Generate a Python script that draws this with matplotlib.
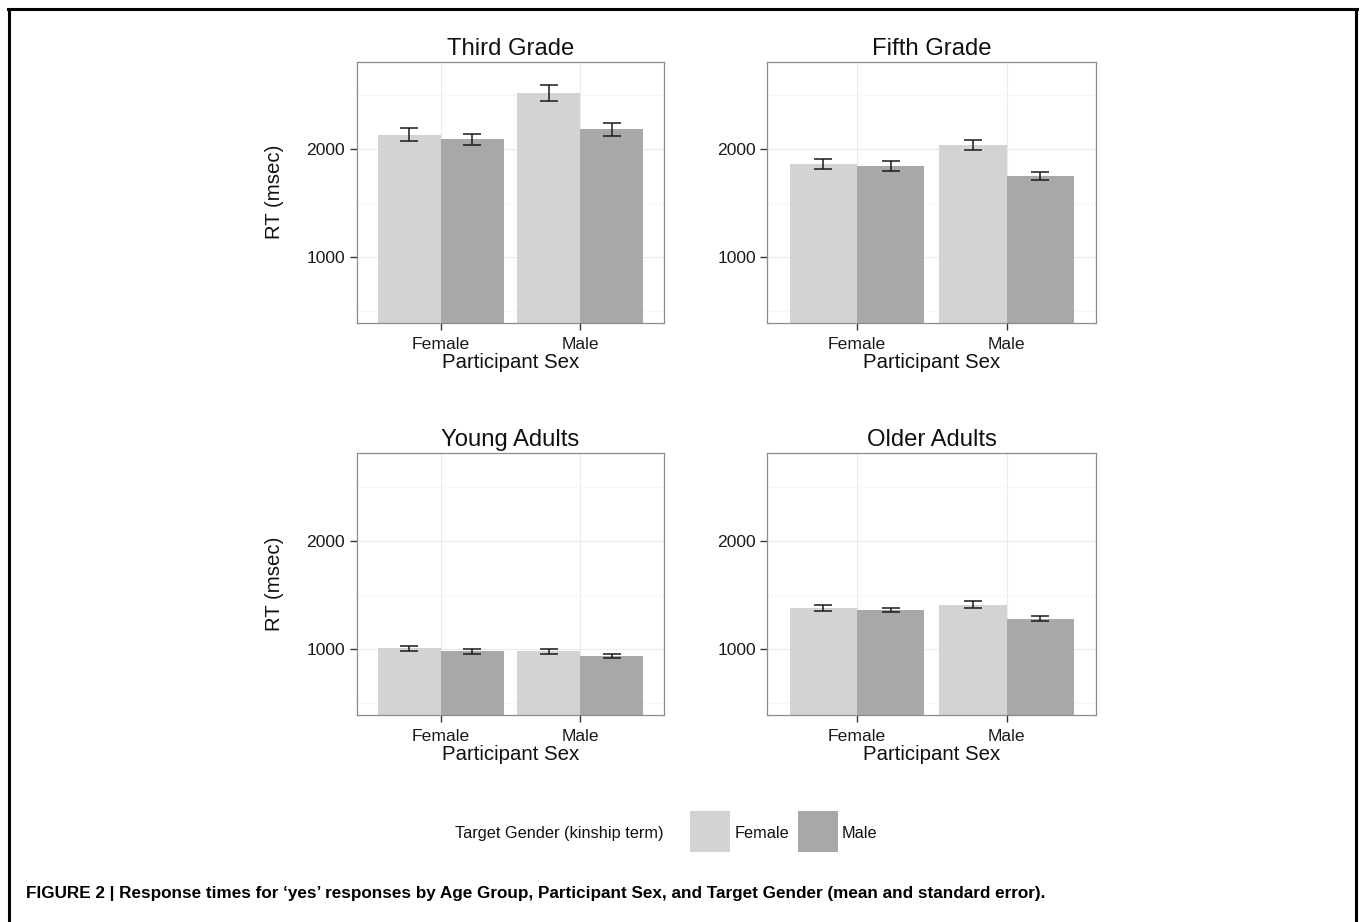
import matplotlib
matplotlib.use("Agg")
import matplotlib.pyplot as plt
from matplotlib.lines import Line2D
from matplotlib.patches import Rectangle
import numpy as np

plt.rcParams['font.family'] = ['Liberation Sans', 'DejaVu Sans']

# ---------------- data ----------------
groups = ["Third Grade", "Fifth Grade", "Young Adults", "Older Adults"]
participant_sex = ["Female", "Male"]
target_gender = ["Female", "Male"]

# mean RT per participant sex (Female, Male) for female-target and male-target
female_target_mean = {
    "Third Grade": [2133, 2519],
    "Fifth Grade": [1864, 2038],
    "Young Adults": [1007, 979],
    "Older Adults": [1376, 1410],
}
male_target_mean = {
    "Third Grade": [2089, 2183],
    "Fifth Grade": [1842, 1751],
    "Young Adults": [980, 938],
    "Older Adults": [1360, 1281],
}
female_target_se = {
    "Third Grade": [62, 77],
    "Fifth Grade": [46, 43],
    "Young Adults": [23, 21],
    "Older Adults": [28, 32],
}
male_target_se = {
    "Third Grade": [52, 60],
    "Fifth Grade": [45, 37],
    "Young Adults": [23, 18],
    "Older Adults": [21, 23],
}
fill_colors = ["#d3d3d3", "#a8a8a8"]

y_major = [1000, 2000]
y_minor = [500, 1500, 2500]

legend_title = "Target Gender (kinship term)"
caption = ("FIGURE 2 | Response times for \u2018yes\u2019 responses by Age Group, "
           "Participant Sex, and Target Gender (mean and standard error).")

# ---------------- figure ----------------
W, H = 1360, 922
fig = plt.figure(figsize=(W / 100, H / 100), dpi=100)

def rect(l, r, t, b):
    return [l / W, 1 - b / H, (r - l) / W, (b - t) / H]

positions = {
    "Third Grade": rect(356.7, 664.3, 61.7, 322.7),
    "Fifth Grade": rect(767.3, 1096.3, 61.7, 322.7),
    "Young Adults": rect(356.7, 664.3, 453.3, 715.0),
    "Older Adults": rect(767.3, 1096.3, 453.3, 715.0),
}
show_ylabel = {"Third Grade": True, "Fifth Grade": False,
               "Young Adults": True, "Older Adults": False}

x = np.arange(len(participant_sex))
bw = 0.45
for g in groups:
    ax = fig.add_axes(positions[g])
    means = [female_target_mean[g], male_target_mean[g]]
    ses = [female_target_se[g], male_target_se[g]]
    for k in range(2):
        xs = x + (k - 0.5) * bw
        ax.bar(xs, means[k], width=bw, color=fill_colors[k], zorder=2,
               linewidth=0)
        ax.errorbar(xs, means[k], yerr=ses[k], fmt='none', ecolor='#1a1a1a',
                    elinewidth=1.1, capsize=6.8, capthick=1.1, zorder=3)
    ax.set_xlim(-0.6, 1.6)
    ax.set_ylim(390, 2810)
    ax.set_yticks(y_major)
    ax.set_yticks(y_minor, minor=True)
    ax.set_xticks(x)
    ax.set_xticklabels(participant_sex)
    ax.grid(True, which='major', color='#ebebeb', linewidth=0.8, zorder=0)
    ax.grid(True, which='minor', axis='y', color='#f7f7f7', linewidth=0.8, zorder=0)
    ax.set_axisbelow(True)
    ax.tick_params(axis='both', which='major', length=4.8, width=1.0,
                   color='#333333', labelsize=12.6, labelcolor='#1a1a1a', pad=3.5)
    ax.tick_params(axis='x', which='major', pad=5.5)
    ax.tick_params(axis='y', which='minor', length=0)
    for sp in ax.spines.values():
        sp.set_color('#8c8c8c')
        sp.set_linewidth(0.9)
    ax.set_title(g, fontsize=17.2, pad=5, color='#111111')
    ax.set_xlabel("Participant Sex", fontsize=14.7, labelpad=0.5, color='#111111')
    if show_ylabel[g]:
        ax.set_ylabel("RT (msec)", fontsize=14.7, labelpad=16, color='#111111')

# ---------------- legend ----------------
fig.text(455 / W, 1 - 833 / H, legend_title, fontsize=11.8, va='center',
         ha='left', color='#111111')
key_x = [690, 797.7]
lab_x = [734.3, 841.7]
for k in range(2):
    fig.patches.append(Rectangle((key_x[k] / W, 1 - 852 / H), 40 / W, 41 / H,
                                 transform=fig.transFigure, facecolor=fill_colors[k],
                                 edgecolor='none'))
    fig.text(lab_x[k] / W, 1 - 833 / H, target_gender[k], fontsize=11.7,
             va='center', ha='left', color='#111111')

# ---------------- caption & frame ----------------
fig.text(26 / W, 1 - 893 / H, caption, fontsize=12.3, fontweight='bold',
         va='center', ha='left', family=['Liberation Sans', 'DejaVu Sans'])

lw = 2.2
fig.add_artist(Line2D([9 / W, 9 / W], [0, 1 - 9 / H], transform=fig.transFigure,
                      color='black', linewidth=lw))
fig.add_artist(Line2D([1356 / W, 1356 / W], [0, 1 - 9 / H], transform=fig.transFigure,
                      color='black', linewidth=lw))
fig.add_artist(Line2D([8 / W, 1357 / W], [1 - 9 / H, 1 - 9 / H], transform=fig.transFigure,
                      color='black', linewidth=lw))

fig.savefig("out.png", dpi=100)
